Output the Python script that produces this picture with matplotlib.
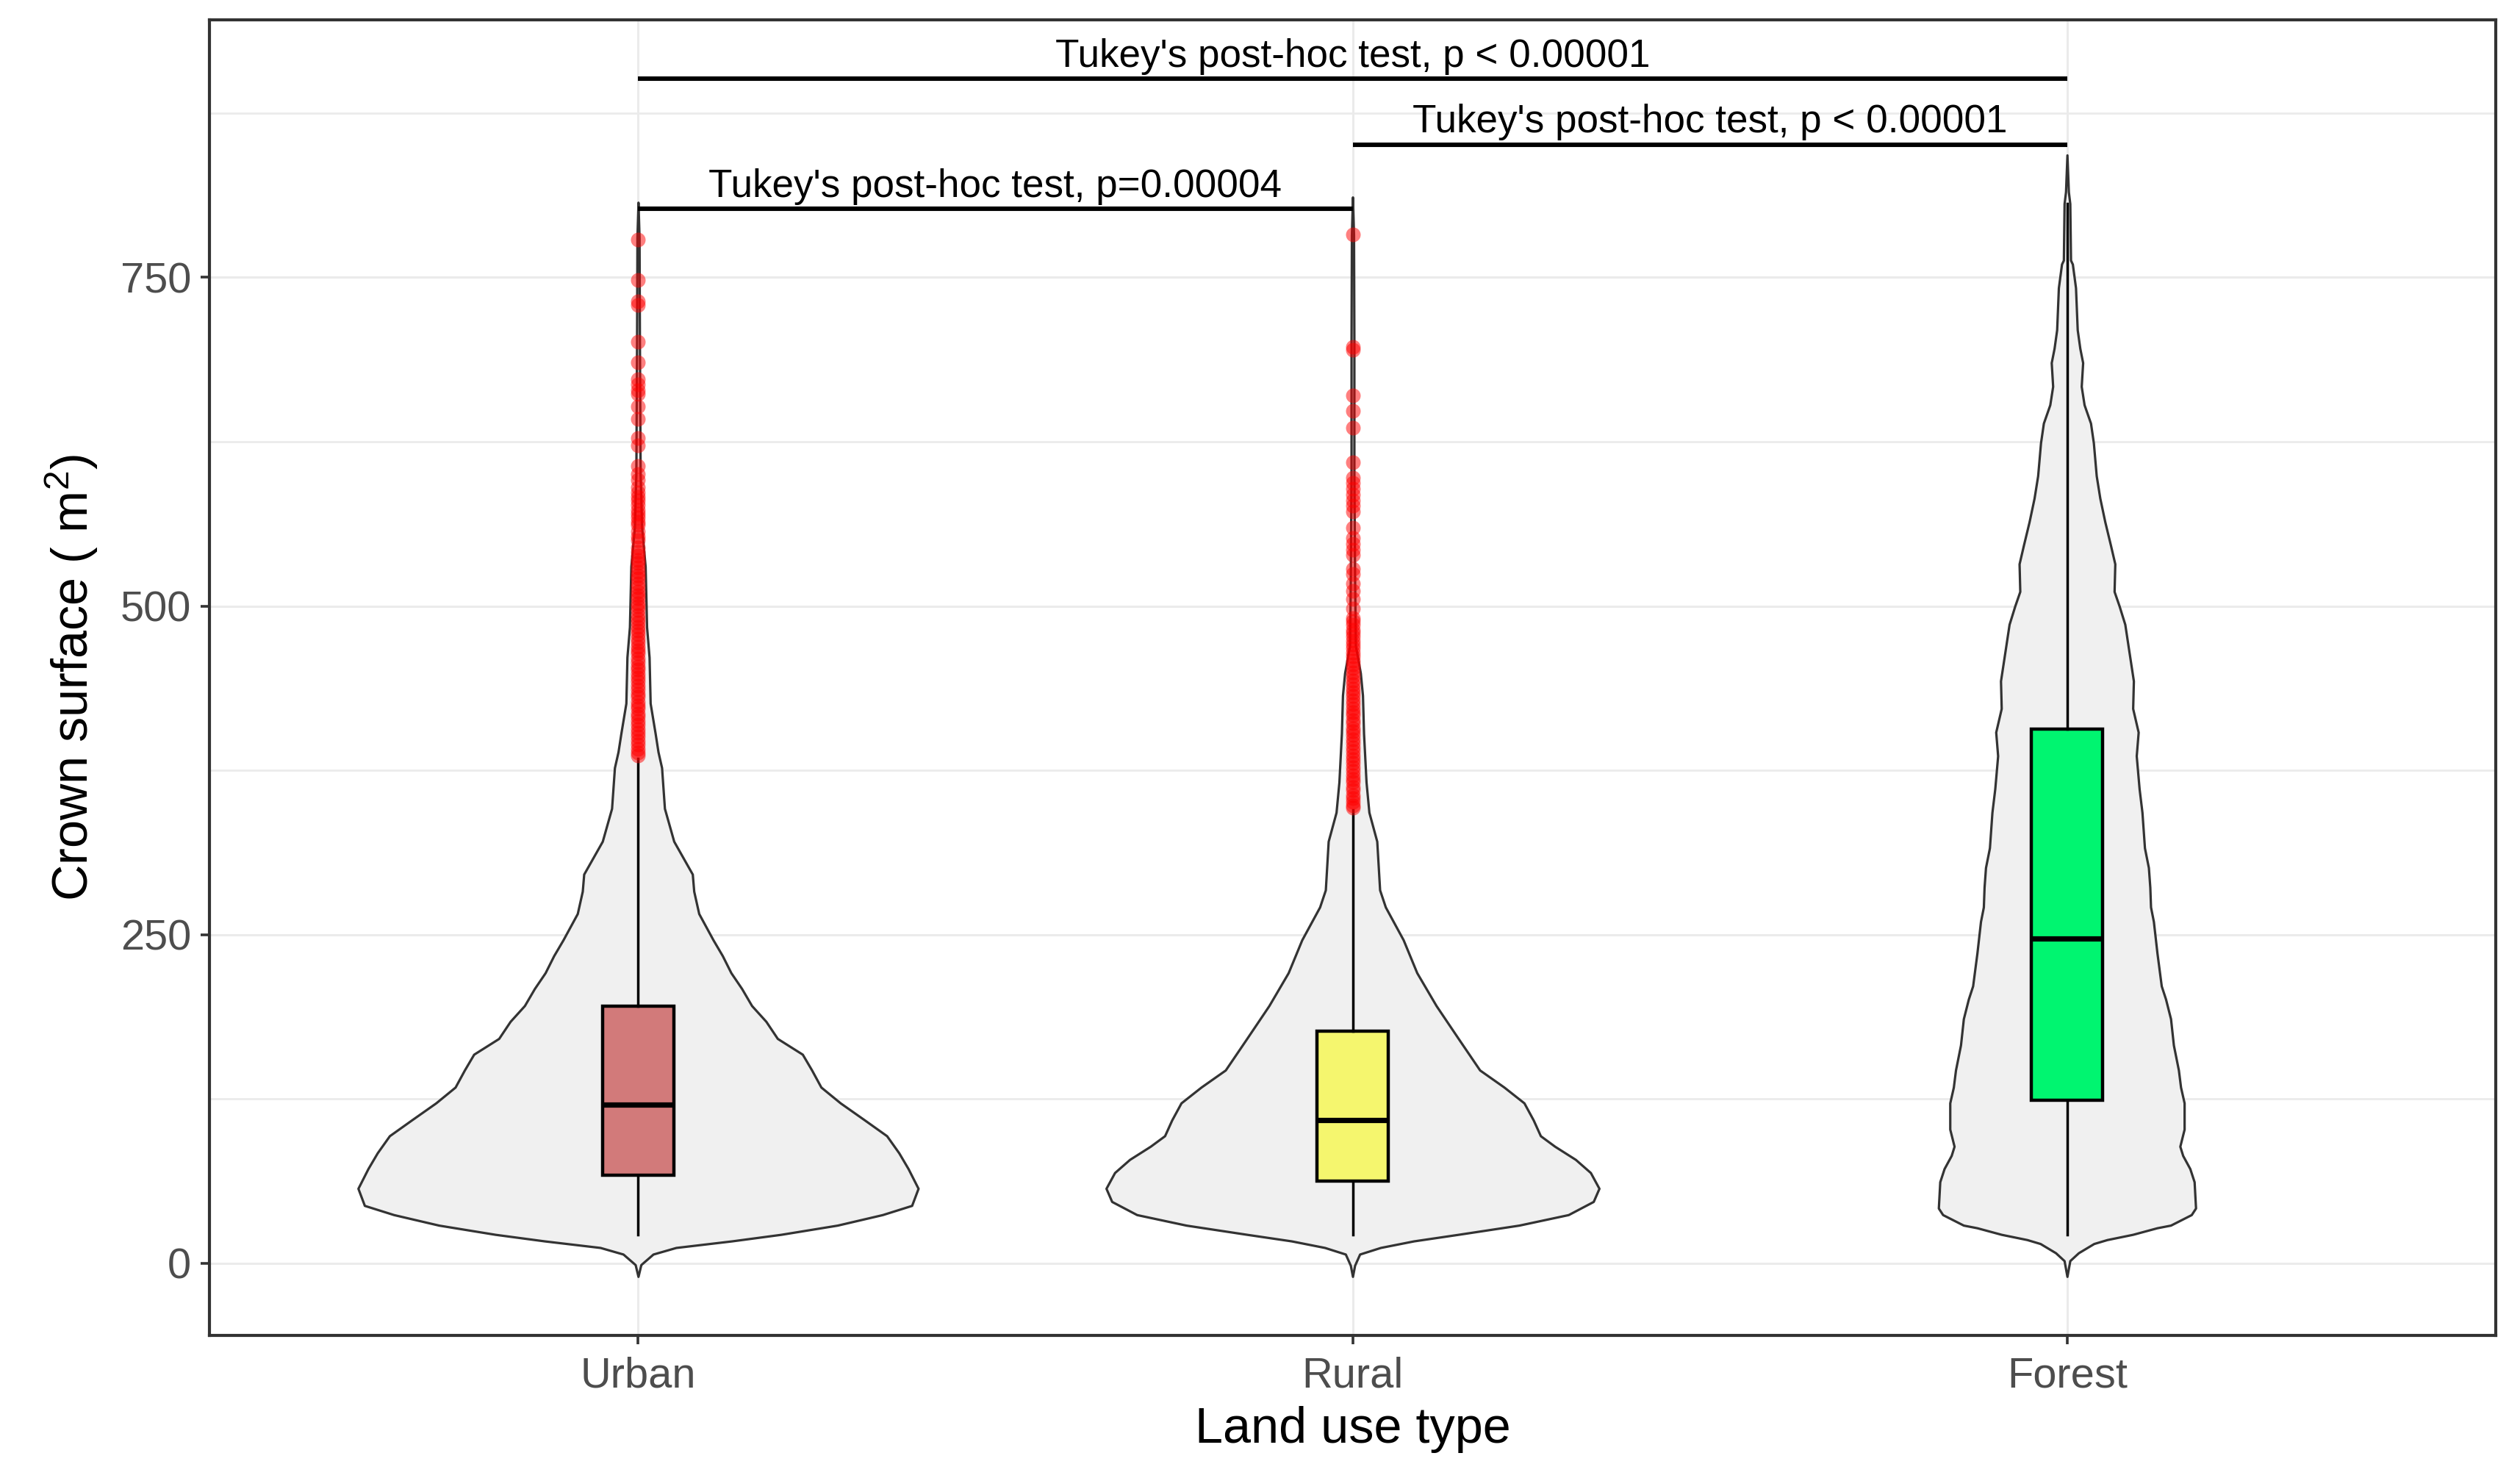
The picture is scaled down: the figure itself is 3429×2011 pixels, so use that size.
import matplotlib
matplotlib.use("Agg")
import matplotlib.pyplot as plt

plt.rcParams['font.family'] = ['Liberation Sans', 'DejaVu Sans']
plt.rcParams['mathtext.fontset'] = 'custom'
plt.rcParams['mathtext.rm'] = 'Liberation Sans'
plt.rcParams['mathtext.it'] = 'Liberation Sans:italic'

# ---------------- data ----------------
categories = ["Urban", "Rural", "Forest"]
box_colors = ["#D27A7A", "#F5F66E", "#00F570"]

box_q1 = [67.2, 62.7, 124.0]
box_median = [121.0, 109.0, 247.0]
box_q3 = [195.4, 176.5, 406.6]
whisker_low = [22.0, 22.0, 22.0]
whisker_high = [384.0, 345.0, 806.0]

urban_violin_y = [-10, -1, 7, 12, 17, 22, 29, 37, 44, 57, 72, 84, 97, 109, 122, 134, 147, 159,
                  171, 184, 196, 209, 221, 234, 246, 266, 283, 296, 321, 346, 377, 389, 403,
                  426, 461, 484, 530, 560, 600, 700, 780, 807]
urban_violin_hw = [0.0, 0.004, 0.021, 0.053, 0.131, 0.200, 0.279, 0.342, 0.383, 0.392, 0.378,
                   0.365, 0.348, 0.317, 0.283, 0.256, 0.243, 0.230, 0.195, 0.179, 0.159, 0.145,
                   0.130, 0.118, 0.105, 0.085, 0.078, 0.076, 0.050, 0.037, 0.033, 0.028, 0.024,
                   0.017, 0.0155, 0.012, 0.010, 0.005, 0.003, 0.002, 0.0015, 0.0]

rural_violin_y = [-10, -1.5, 7, 12, 17, 22, 29, 37, 47, 57, 69, 79, 89, 97, 109, 122, 134, 147,
                  171, 196, 221, 246, 271, 284, 321, 343, 366, 403, 432, 449, 470, 520, 600,
                  700, 782, 811]
rural_violin_hw = [0.0, 0.003, 0.010, 0.039, 0.0855, 0.148, 0.233, 0.302, 0.337, 0.345, 0.333,
                   0.312, 0.283, 0.263, 0.253, 0.240, 0.212, 0.178, 0.148, 0.117, 0.090, 0.071,
                   0.046, 0.038, 0.034, 0.023, 0.019, 0.0155, 0.014, 0.011, 0.004, 0.003,
                   0.002, 0.002, 0.0015, 0.0]

forest_violin_y = [-10, 2, 8, 15, 18, 22, 27, 29, 37, 42, 62, 72, 82, 89, 102, 122, 134, 147,
                   166, 186, 201, 211, 236, 260, 271, 286, 301, 316, 343, 361, 386, 404, 422,
                   443, 468, 486, 500, 511, 532, 546, 564, 582, 599, 624, 639, 653, 667, 685,
                   696, 710, 742, 760, 763, 806, 815, 843]
forest_violin_hw = [0.0, 0.004, 0.016, 0.0375, 0.056, 0.092, 0.126, 0.145, 0.174, 0.180, 0.178,
                    0.172, 0.162, 0.158, 0.164, 0.164, 0.159, 0.156, 0.149, 0.145, 0.138, 0.132,
                    0.126, 0.121, 0.117, 0.116, 0.114, 0.1085, 0.105, 0.101, 0.097, 0.0997,
                    0.092, 0.093, 0.086, 0.081, 0.073, 0.066, 0.067, 0.061, 0.053, 0.046,
                    0.041, 0.037, 0.033, 0.024, 0.020, 0.022, 0.018, 0.0144, 0.012, 0.0076,
                    0.005, 0.004, 0.002, 0.0]

urban_outliers = [778.6, 747.7, 731.5, 729.0, 700.7, 685.1, 672.7, 668.4, 664.1, 661.2, 651.7,
                  642.4, 628.0, 622.2, 606.4, 600.6, 596.0, 590.5, 586.2, 583.0, 580.4, 577.0,
                  573.2, 570.0, 567.4, 564.0, 561.7, 557.0, 553.0, 550.0, 544.3, 541.2, 538.5,
                  535.1, 532.6, 529.4, 526.0, 523.3, 520.8, 517.2, 514.5, 511.1, 508.3, 505.6,
                  502.2, 499.5, 496.7, 493.1, 490.4, 487.6, 484.0, 481.3, 478.5, 475.2, 472.6,
                  469.1, 466.4, 463.8, 460.2, 457.5, 454.1, 451.7, 448.3, 445.5, 442.9, 439.4,
                  436.6, 433.2, 430.7, 427.3, 424.5, 421.8, 418.2, 415.6, 412.3, 409.7, 406.1,
                  403.4, 400.8, 397.2, 394.6, 391.3, 388.5, 386.0]
rural_outliers = [782.3, 697.0, 695.0, 660.3, 648.2, 635.8, 609.3, 597.7, 593.4, 589.0, 584.8,
                  580.4, 576.1, 571.8, 559.4, 551.6, 547.3, 542.9, 538.6, 528.5, 524.2, 517.0,
                  511.2, 505.4, 498.2, 491.0, 488.3, 485.5, 482.1, 479.4, 476.8, 473.2, 470.5,
                  467.7, 464.3, 461.6, 458.2, 455.5, 452.9, 449.3, 446.6, 443.2, 440.7, 437.1,
                  434.4, 431.8, 428.3, 425.6, 422.2, 419.5, 416.9, 413.3, 410.7, 407.2, 404.5,
                  401.9, 398.4, 395.6, 392.3, 389.7, 386.1, 383.5, 380.8, 377.3, 374.6, 371.2,
                  368.5, 365.9, 362.4, 359.7, 356.3, 353.6, 351.0, 348.4, 346.8]
forest_outliers = []

brackets = [(1, 3, 901.0, "Tukey's post-hoc test, p < 0.00001"),
            (2, 3, 851.0, "Tukey's post-hoc test, p < 0.00001"),
            (1, 2, 802.0, "Tukey's post-hoc test, p=0.00004")]

# ---------------- figure ----------------
fig = plt.figure(figsize=(17.15, 10.055), dpi=200)
ax = fig.add_axes([0.08309, 0.09647, 0.90700, 0.89010])
ax.set_xlim(0.4, 3.6)
ax.set_ylim(-54.8, 945.8)
ax.set_axisbelow(True)

positions = [1, 2, 3]
violins = [(urban_violin_y, urban_violin_hw), (rural_violin_y, rural_violin_hw),
           (forest_violin_y, forest_violin_hw)]
for pos, (vy, vw) in zip(positions, violins):
    left = [pos - w for w in vw]
    right = [pos + w for w in vw]
    ax.fill_betweenx(vy, left, right, facecolor="#F0F0F0", edgecolor="#333333",
                     linewidth=1.15, zorder=2)

stats = []
for i in range(3):
    stats.append(dict(med=box_median[i], q1=box_q1[i], q3=box_q3[i],
                      whislo=whisker_low[i], whishi=whisker_high[i], fliers=[]))
bp = ax.bxp(stats, positions=positions, widths=0.1, patch_artist=True,
            showfliers=False, showcaps=False,
            boxprops=dict(linewidth=1.6, edgecolor="black"),
            medianprops=dict(color="black", linewidth=2.6, solid_capstyle="butt"),
            whiskerprops=dict(color="black", linewidth=1.25), zorder=3)
for patch, c in zip(bp["boxes"], box_colors):
    patch.set_facecolor(c)

for pos, outl in zip(positions, [urban_outliers, rural_outliers, forest_outliers]):
    if outl:
        ax.scatter([pos] * len(outl), outl, s=7.2 ** 2, color="red", alpha=0.5,
                   linewidths=0, zorder=4)

for x0, x1, yb, label in brackets:
    ax.plot([x0, x1], [yb, yb], color="black", linewidth=2.2, solid_capstyle="butt",
            zorder=5)
    ax.text((x0 + x1) / 2, yb + 9, label, ha="center", va="baseline", fontsize=19.1,
            color="black", zorder=6)

# axes styling
ax.set_xticks(positions)
ax.set_xticklabels(categories)
ax.set_yticks([0, 250, 500, 750])
ax.set_yticks([125, 375, 625, 875], minor=True)
ax.grid(which="major", color="#EBEBEB", linewidth=1.1)
ax.grid(which="minor", axis="y", color="#EBEBEB", linewidth=1.0)
ax.tick_params(axis="both", which="major", length=4.3, width=1.3, color="#333333",
               labelsize=20.8, labelcolor="#4D4D4D")
ax.tick_params(axis="y", which="major", pad=4.7)
ax.tick_params(axis="x", which="major", pad=6)
ax.tick_params(which="minor", length=0)
for sp in ax.spines.values():
    sp.set_color("#333333")
    sp.set_linewidth(1.5)

ax.set_xlabel("Land use type", fontsize=24.6, color="black", labelpad=5)
ax.set_ylabel(r"Crown surface ( m$^{2}$)", fontsize=24.6, color="black", labelpad=10)

fig.savefig("out.png", dpi=200)
